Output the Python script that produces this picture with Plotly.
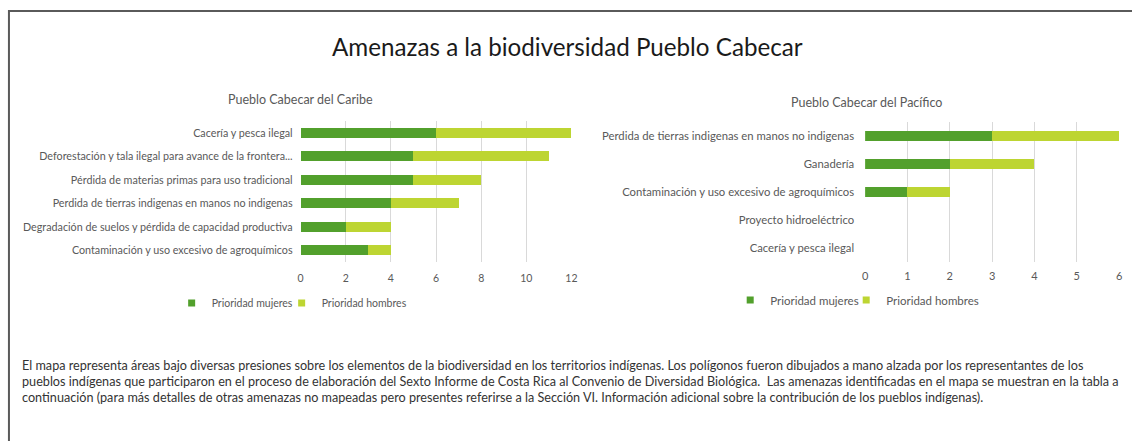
import plotly.graph_objects as go

W, H = 1138, 441

# ---- data ----
caribe_cats = [
    "Cacería y pesca ilegal",
    "Deforestación y tala ilegal para avance de la frontera...",
    "Pérdida de materias primas para uso tradicional",
    "Perdida de tierras indigenas en manos no indigenas",
    "Degradación de suelos y pérdida de capacidad productiva",
    "Contaminación y uso excesivo de agroquímicos",
]
caribe_mujeres = [6, 5, 5, 4, 2, 3]
caribe_hombres = [6, 6, 3, 3, 2, 1]

pacifico_cats = [
    "Perdida de tierras indigenas en manos no indigenas",
    "Ganadería",
    "Contaminación y uso excesivo de agroquímicos",
    "Proyecto hidroeléctrico",
    "Cacería y pesca ilegal",
]
pacifico_mujeres = [3, 2, 1, 0, 0]
pacifico_hombres = [3, 2, 1, 0, 0]

caribe_ticks = [0, 2, 4, 6, 8, 10, 12]
pacifico_ticks = [0, 1, 2, 3, 4, 5, 6]

series_names = ["Prioridad mujeres", "Prioridad hombres"]

title = "Amenazas a la biodiversidad Pueblo Cabecar"
sub_left = "Pueblo Cabecar del Caribe"
sub_right = "Pueblo Cabecar del Pacífico"
note_lines = [
    "El mapa representa áreas bajo diversas presiones sobre los elementos de la biodiversidad en los territorios indígenas. Los polígonos fueron dibujados a mano alzada por los representantes de los",
    "pueblos indígenas que participaron en el proceso de elaboración del Sexto Informe de Costa Rica al Convenio de Diversidad Biológica.  Las amenazas identificadas en el mapa se muestran en la tabla a",
    "continuación (para más detalles de otras amenazas no mapeadas pero presentes referirse a la Sección VI. Información adicional sobre la contribución de los pueblos indígenas).",
]

C_M = "#52a02c"
C_H = "#bdd532"
GRAY = "#595959"
FONT = "Lato"


def px(x):
    return x / W


def py(y):
    return 1 - y / H


fig = go.Figure()
colors = [C_M, C_H]
for name, vals, col in zip(series_names, [caribe_mujeres, caribe_hombres], colors):
    fig.add_trace(go.Bar(y=caribe_cats, x=vals, orientation="h", name=name, marker_color=col,
                         marker_line_width=0, xaxis="x", yaxis="y", showlegend=False, width=0.42))
for name, vals, col in zip(series_names, [pacifico_mujeres, pacifico_hombres], colors):
    fig.add_trace(go.Bar(y=pacifico_cats, x=vals, orientation="h", name=name, marker_color=col,
                         marker_line_width=0, xaxis="x2", yaxis="y2", showlegend=False, width=0.36))
# legend entries (small square keys as in the original)
for lg, xa, ya, widths in [("legend", "x", "y", [65, 100]), ("legend2", "x2", "y2", [71, 110])]:
    for name, col, lw in zip(series_names, colors, widths):
        fig.add_trace(go.Scatter(x=[None], y=[None], mode="markers", name=name,
                                 marker=dict(symbol="square", size=7, color=col),
                                 xaxis=xa, yaxis=ya, legend=lg, showlegend=True, legendwidth=lw))

axis_common = dict(showgrid=True, gridcolor="#d9d9d9", gridwidth=1, zeroline=False,
                   showline=False, ticks="", fixedrange=True)

fig.update_layout(
    width=W, height=H,
    margin=dict(l=0, r=0, t=0, b=0),
    paper_bgcolor="white", plot_bgcolor="white",
    barmode="stack",
    font=dict(family=FONT, color=GRAY),
    xaxis=dict(domain=[px(300), px(573)], range=[0, 12], tickvals=caribe_ticks, anchor="y",
               ticklabelstandoff=8, tickfont=dict(family=FONT, size=10.5, color=GRAY), **axis_common),
    yaxis=dict(domain=[py(262), py(121)], anchor="x", type="category", autorange="reversed",
               showgrid=False, zeroline=False, showline=False, ticks="", ticklabelstandoff=7,
               fixedrange=True, tickfont=dict(family=FONT, size=10.75, color=GRAY)),
    xaxis2=dict(domain=[px(869), px(1125)], range=[0, 6], tickvals=pacifico_ticks, anchor="y2",
                ticklabelstandoff=6, tickfont=dict(family=FONT, size=11, color=GRAY), **axis_common),
    yaxis2=dict(domain=[py(262), py(122)], anchor="x2", type="category", autorange="reversed",
                showgrid=False, zeroline=False, showline=False, ticks="", ticklabelstandoff=10,
                fixedrange=True, tickfont=dict(family=FONT, size=11.3, color=GRAY)),
    legend=dict(orientation="h", x=px(170), xanchor="left", y=py(303), yanchor="middle",
                font=dict(family=FONT, size=10.5, color=GRAY), bgcolor="rgba(0,0,0,0)",
                itemwidth=30, traceorder="normal"),
    legend2=dict(orientation="h", x=px(733), xanchor="left", y=py(300), yanchor="middle",
                 font=dict(family=FONT, size=11.5, color=GRAY), bgcolor="rgba(0,0,0,0)",
                 itemwidth=30, traceorder="normal"),
    showlegend=True,
)

annotations = [
    dict(text=title, x=px(569), y=py(47), xref="paper", yref="paper", showarrow=False,
         xanchor="center", yanchor="middle", font=dict(family=FONT, size=24.2, color="#1a1a1a")),
    dict(text=sub_left, x=px(300), y=py(100), xref="paper", yref="paper", showarrow=False,
         xanchor="center", yanchor="middle", font=dict(family=FONT, size=12.5, color=GRAY)),
    dict(text=sub_right, x=px(870), y=py(102), xref="paper", yref="paper", showarrow=False,
         xanchor="center", yanchor="middle", font=dict(family=FONT, size=12.5, color=GRAY)),
]
for i, line in enumerate(note_lines):
    annotations.append(dict(text=line, x=px(17), y=py(365 + 16 * i), xref="paper", yref="paper",
                            showarrow=False, xanchor="left", yanchor="middle",
                            font=dict(family=FONT, size=12.65, color="#333333")))
fig.update_layout(annotations=annotations)

fig.add_shape(type="path", xref="paper", yref="paper",
              path=f"M {px(6)},0 L {px(6)},{py(11)} L 1,{py(11)}",
              line=dict(color="#5a5a5a", width=2))

fig.write_html("out.html", config={"displayModeBar": False},
               post_script="document.body.style.margin='0';document.body.style.overflow='hidden';")
